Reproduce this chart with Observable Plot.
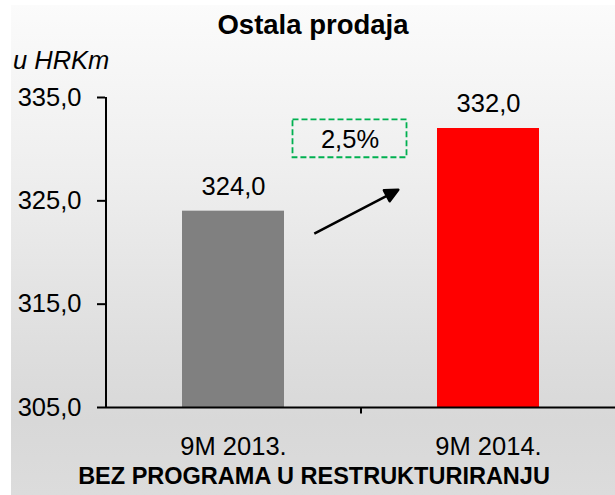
<!DOCTYPE html>
<html>
<head>
<meta charset="utf-8">
<script src="https://cdn.jsdelivr.net/npm/d3@7"></script>
<script src="https://cdn.jsdelivr.net/npm/@observablehq/plot@0.6"></script>
<style>
  html, body { margin: 0; padding: 0; background: #ffffff; }
  #wrap { position: relative; width: 615px; height: 495px; overflow: hidden;
          font-family: "Liberation Sans", Arial, sans-serif; color: #000; }
  #panel { position: absolute; left: 11px; top: 5px; width: 604px; height: 490px;
           background: linear-gradient(to bottom, #fbfbfb 0%, #eeeeee 35%, #dedede 70%, #d8d8d8 85%, #dcdcdc 100%); }
  .title { position: absolute; left: 0; width: 604px; top: 6px; text-align: center;
           font-weight: bold; font-size: 27.5px; line-height: 1; white-space: nowrap; }
  .unit { position: absolute; left: 2px; top: 43px; font-style: italic; font-size: 25.5px;
          line-height: 1; white-space: nowrap; }
  .caption { position: absolute; left: 0; width: 606px; top: 459.5px; text-align: center;
             font-weight: bold; font-size: 23.5px; line-height: 1; white-space: nowrap; }
  #chart { position: absolute; left: 0; top: 75px; }
</style>
</head>
<body>
<div id="wrap">
  <div id="panel">
    <div class="title">Ostala prodaja</div>
    <div class="unit">u HRKm</div>
    <div id="chart"></div>
    <div class="caption">BEZ PROGRAMA U RESTRUKTURIRANJU</div>
  </div>
</div>
<script>
// ---- data ----
const categories = ["9M 2013.", "9M 2014."];
const values = [324.0, 332.0];
const barColors = ["#808080", "#ff0000"];
const yTicks = [305, 315, 325, 335];
const yDomain = [305, 335];

// annotation anchors (in data units of y)
const boxRange = [329.17, 332.84];
const boxLabelY = 330.94;
const arrowStartY = 321.82;

const fmt = v => d3.format(".1f")(v).replace(".", ",");
const changeLabel = fmt((values[1] / values[0] - 1) * 100) + "%";

const data = categories.map((c, i) => ({cat: c, value: values[i], color: barColors[i]}));

const lineShape = { draw(ctx, l) { ctx.moveTo(0, 0); ctx.lineTo(0, -l); } };
const arrowShape = {
  draw(ctx, l) {
    const h = 13, w = 6.2;
    ctx.moveTo(0, 0);
    ctx.lineTo(0, -l + h);
    ctx.moveTo(0, -l);
    ctx.lineTo(-w, -l + h);
    ctx.lineTo(w, -l + h);
    ctx.closePath();
  }
};

const chart = Plot.plot({
  width: 604,
  height: 380,
  marginTop: 17,
  marginBottom: 53,
  marginLeft: 94,
  marginRight: 0,
  style: {background: "transparent", fontFamily: "'Liberation Sans', Arial, sans-serif", color: "#000", overflow: "visible"},
  x: {domain: categories, paddingInner: 0.6, paddingOuter: 0.3, axis: null},
  y: {domain: yDomain, axis: null},
  marks: [
    Plot.barY(data, {x: "cat", y1: () => yDomain[0], y2: "value", fill: d => d.color}),
    Plot.axisY({ticks: yTicks, tickSize: 8, tickPadding: 16, tickFormat: fmt, fontSize: 25.5, strokeWidth: 2, label: null}),
    Plot.axisX({tickSize: 0, tickPadding: 29, fontSize: 25.5, label: null}),
    Plot.ruleY([yDomain[0]], {stroke: "#000", strokeWidth: 2}),
    Plot.ruleX([categories[0]], {x: d => d, dx: -127.5, stroke: "#000", strokeWidth: 2}),
    Plot.vector([categories[1]], {x: d => d, y: () => yDomain[0], dx: -127.5, length: 6, rotate: 180,
      anchor: "start", shape: lineShape, stroke: "#000", strokeWidth: 2, strokeLinecap: "butt"}),
    Plot.text(data, {x: "cat", y: "value", text: d => fmt(d.value), dy: -24.5, fontSize: 25.5, fill: "#000"}),
    Plot.barY([changeLabel], {x: () => categories[1], y1: () => boxRange[0], y2: () => boxRange[1],
      dx: -138.5, insetLeft: -6, insetRight: -6, fill: "none", stroke: "#00b050", strokeWidth: 1.8, strokeDasharray: "6,3"}),
    Plot.text([changeLabel], {x: () => categories[1], y: () => boxLabelY, dx: -138.5, text: d => d, fontSize: 25.5, fill: "#000"}),
    Plot.vector([categories[0]], {x: d => d, y: () => arrowStartY, dx: 80.8, length: 94.8, rotate: 62.4,
      anchor: "start", shape: arrowShape, stroke: "#000", fill: "#000", strokeWidth: 2.5, strokeLinecap: "butt"})
  ]
});
document.getElementById("chart").appendChild(chart);
</script>
</body>
</html>
